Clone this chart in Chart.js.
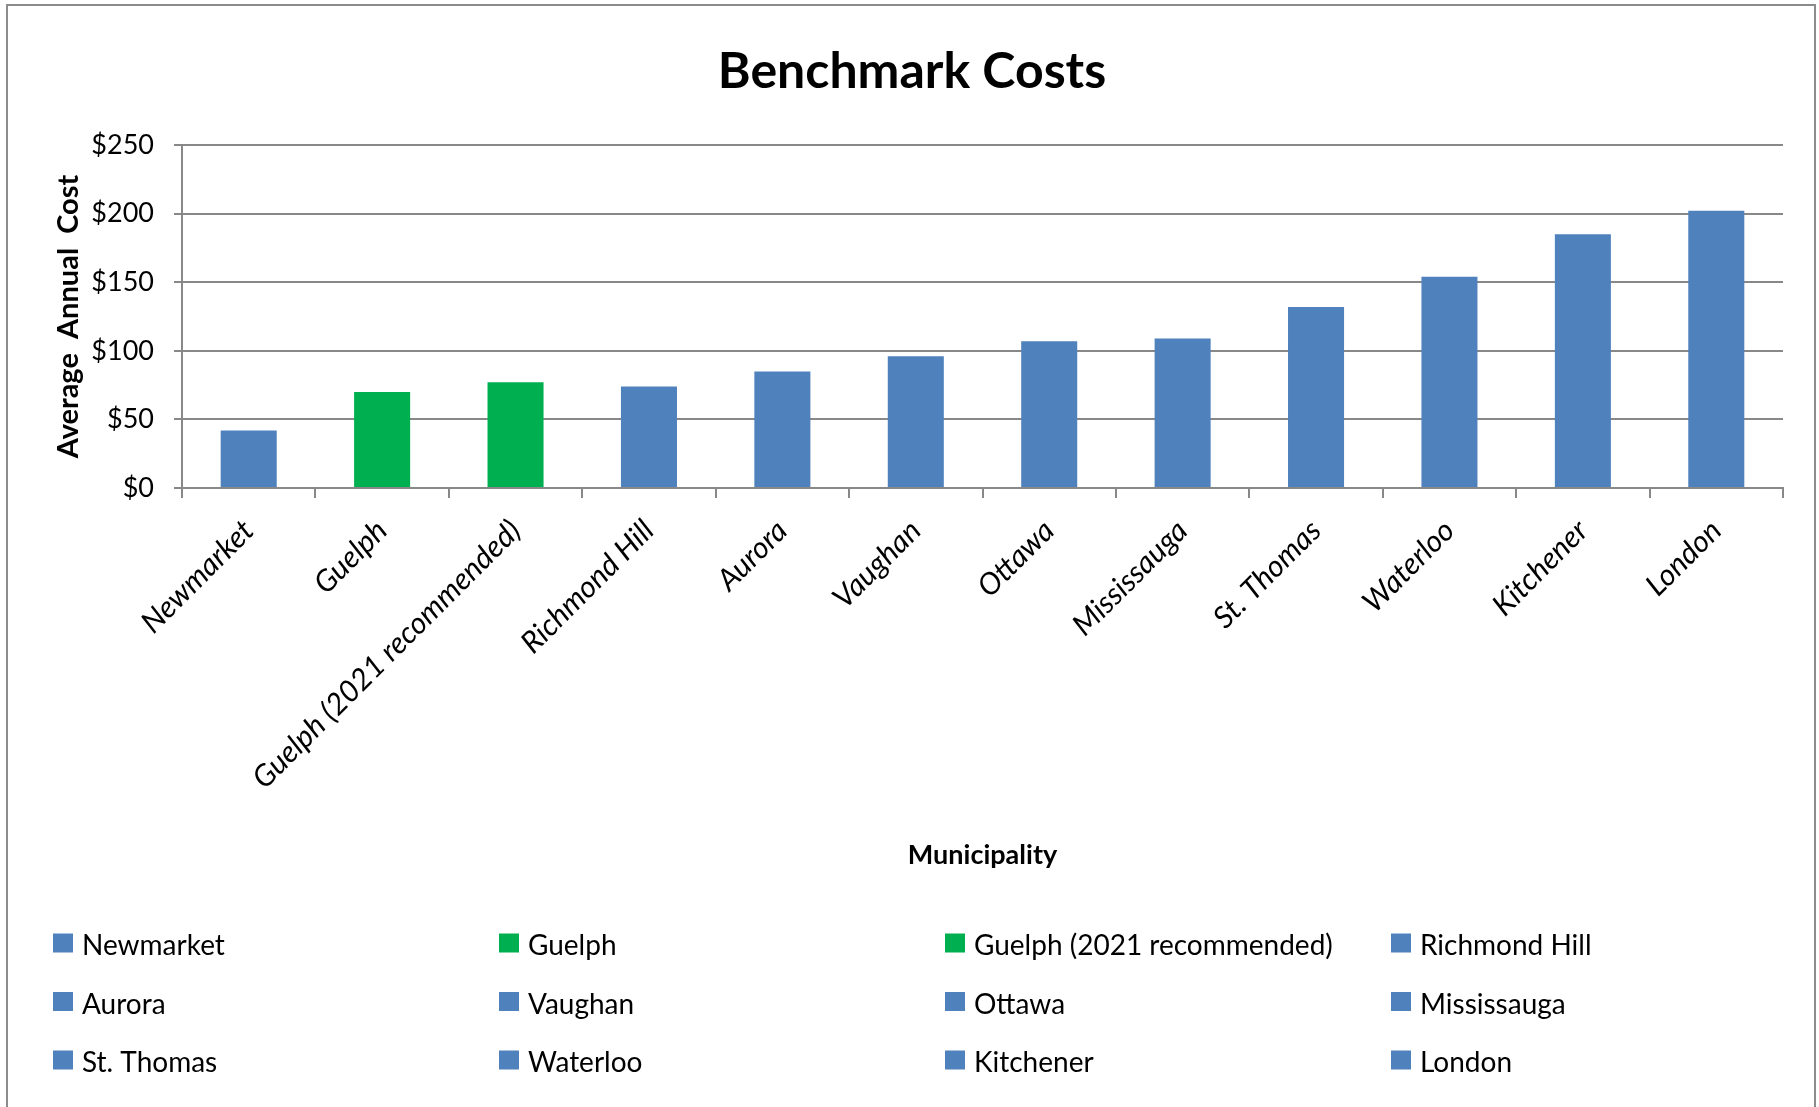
<!DOCTYPE html>
<html>
<head>
<meta charset="utf-8">
<title>Benchmark Costs</title>
<script src="https://cdn.jsdelivr.net/npm/chart.js@4.4.1/dist/chart.umd.min.js"></script>
<style>
  html, body { margin: 0; padding: 0; background: #fff; overflow: hidden; }
  #wrap { position: relative; width: 1819px; height: 1107px; }
</style>
</head>
<body>
<div id="wrap"><canvas id="benchmarkChart"></canvas></div>
<script>
// Average annual cost per municipality (dollars)
const MUNICIPALITIES = [
  'Newmarket',
  'Guelph',
  'Guelph (2021 recommended)',
  'Richmond Hill',
  'Aurora',
  'Vaughan',
  'Ottawa',
  'Mississauga',
  'St. Thomas',
  'Waterloo',
  'Kitchener',
  'London'
];
const AVERAGE_ANNUAL_COST = [42, 70, 77, 74, 85, 96, 107, 109, 132, 154, 185, 202];
const HIGHLIGHTED = ['Guelph', 'Guelph (2021 recommended)'];
const Y_MIN = 0;
const Y_MAX = 250;
const Y_STEP = 50;

const COLORS = {
  bar: '#4F81BD',
  highlight: '#00B050',
  grid: '#888888',
  frame: '#8c8c8c',
  text: '#000000'
};

const FONT_FAMILY = 'Lato, "Open Sans", sans-serif';

const LEGEND_LAYOUT = {
  columns: 4,
  left: 53,
  top: 946,
  columnWidth: 446,
  rowHeight: 58.5,
  boxWidth: 20,
  boxHeight: 19,
  gap: 9,
  font: `28px ${FONT_FAMILY}`
};

function barColor(name) {
  return HIGHLIGHTED.includes(name) ? COLORS.highlight : COLORS.bar;
}

function formatDollars(value) {
  return '$' + value;
}

// outer frame round the whole chart object
const framePlugin = {
  id: 'frame',
  beforeDraw(chart) {
    const { ctx } = chart;
    ctx.save();
    ctx.strokeStyle = COLORS.frame;
    ctx.lineWidth = 2;
    ctx.strokeRect(7, 5, 1808, 1200);
    ctx.restore();
  }
};

// legend laid out as a fixed 4-column grid, one entry per bar
const gridLegendPlugin = {
  id: 'gridLegend',
  afterDraw(chart) {
    const { ctx } = chart;
    const labels = chart.data.labels;
    const colors = chart.data.datasets[0].backgroundColor;
    const L = LEGEND_LAYOUT;

    ctx.save();
    ctx.font = L.font;
    ctx.textBaseline = 'middle';
    ctx.textAlign = 'left';
    labels.forEach((label, i) => {
      const x = L.left + (i % L.columns) * L.columnWidth;
      const y = L.top + Math.floor(i / L.columns) * L.rowHeight;
      ctx.fillStyle = colors[i];
      ctx.fillRect(x, y - L.boxHeight / 2 - 3, L.boxWidth, L.boxHeight);
      ctx.fillStyle = COLORS.text;
      ctx.fillText(label, x + L.boxWidth + L.gap, y);
    });
    ctx.restore();
  }
};

Chart.defaults.font.family = FONT_FAMILY;
Chart.defaults.color = COLORS.text;

new Chart(document.getElementById('benchmarkChart'), {
  type: 'bar',
  data: {
    labels: MUNICIPALITIES,
    datasets: [{
      label: 'Average Annual Cost',
      data: AVERAGE_ANNUAL_COST,
      backgroundColor: MUNICIPALITIES.map(barColor),
      borderWidth: 0,
      categoryPercentage: 1,
      barPercentage: 0.42
    }]
  },
  options: {
    responsive: true,
    maintainAspectRatio: false,
    animation: false,
    devicePixelRatio: 1,
    layout: {
      padding: { top: 5, left: 41, right: 36, bottom: 236 }
    },
    scales: {
      x: {
        afterFit(scale) { scale.height = 383; },
        grid: {
          display: true,
          drawOnChartArea: false,
          drawTicks: true,
          tickLength: 10,
          offset: true,
          color: COLORS.grid,
          lineWidth: 2
        },
        border: { color: COLORS.grid, width: 2 },
        ticks: {
          autoSkip: false,
          minRotation: 45,
          maxRotation: 45,
          padding: 15,
          color: COLORS.text,
          font: { size: 30, style: 'italic' }
        },
        title: {
          display: true,
          text: 'Municipality',
          color: COLORS.text,
          padding: 0,
          font: { size: 27, weight: 'bold' }
        }
      },
      y: {
        min: Y_MIN,
        max: Y_MAX,
        afterFit(scale) { scale.width = 141; },
        grid: {
          color: COLORS.grid,
          lineWidth: 2,
          drawTicks: true,
          tickLength: 8
        },
        border: { color: COLORS.grid, width: 2 },
        ticks: {
          stepSize: Y_STEP,
          padding: 20,
          color: COLORS.text,
          font: { size: 27 },
          callback: formatDollars
        },
        title: {
          display: true,
          text: 'Average  Annual  Cost',
          color: COLORS.text,
          padding: { top: 10, bottom: 0 },
          font: { size: 29, weight: 'bold' }
        }
      }
    },
    plugins: {
      legend: { display: false },
      tooltip: { enabled: false },
      title: {
        display: true,
        text: 'Benchmark Costs',
        color: COLORS.text,
        padding: { top: 37, bottom: 43 },
        font: { size: 50, weight: 'bold' }
      }
    }
  },
  plugins: [framePlugin, gridLegendPlugin]
});
</script>
</body>
</html>
